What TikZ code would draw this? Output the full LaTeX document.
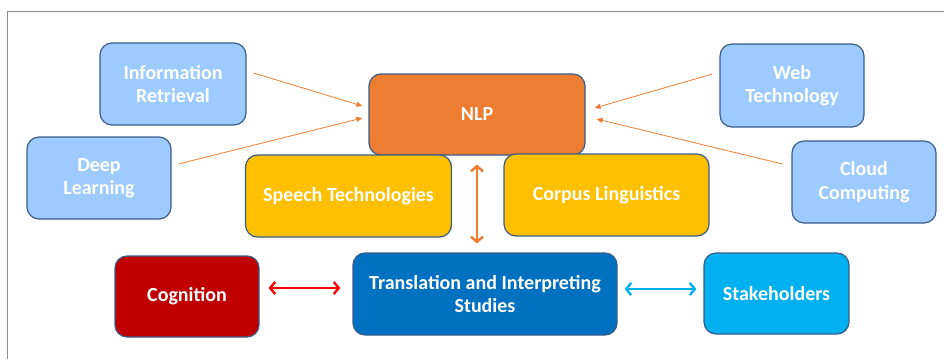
\documentclass[tikz,border=0pt]{standalone}
\usepackage{fontspec}
\setmainfont{Carlito}
\usetikzlibrary{arrows.meta}
\definecolor{skyfill}{HTML}{9DCBFF}
\definecolor{outline}{HTML}{385D8A}
\definecolor{nlporange}{HTML}{ED7D31}
\definecolor{amber}{HTML}{FFC000}
\definecolor{darkred}{HTML}{C00000}
\definecolor{tisblue}{HTML}{0070C0}
\definecolor{cyanish}{HTML}{00B0F0}
\definecolor{linkred}{HTML}{FF0000}
\definecolor{framegray}{HTML}{8C8C8C}
\begin{document}
\begin{tikzpicture}[x=1pt,y=-1pt,
  box/.style={draw=outline, line width=1.2pt, rounded corners=12pt,
    text=white, font=\bfseries\fontsize{20}{23.5}\selectfont, align=center,
    inner sep=0pt, minimum width=#1},
  box/.default=144pt,
  feed/.style={draw=nlporange, line width=0.8pt, -{Triangle[length=6pt,width=5pt]}},
  twoway/.style={line width=2.4pt, {Straight Barb[length=5pt,width=12pt]}-{Straight Barb[length=5pt,width=12pt]}}
]
\useasboundingbox (0,0) rectangle (944,359);
% page frame
\draw[framegray, line width=1.2pt] (7.5,359) -- (7.5,11.5) -- (944,11.5);

% outer sources feeding NLP
\node[box=146pt, minimum height=82pt, fill=skyfill] (ir) at (173,84) {Information\\Retrieval};
\node[box, minimum height=82pt, fill=skyfill] (dl) at (99,178) {Deep\\Learning};
\node[box, minimum height=83pt, fill=skyfill] (web) at (792,85.5) {Web\\Technology};
\node[box, minimum height=82pt, fill=skyfill] (cloud) at (864,182) {Cloud\\Computing};

% core
\node[box=216pt, minimum height=81pt, fill=nlporange] (nlp) at (477,114.5) {NLP};
\node[box=206pt, minimum height=82pt, fill=amber] (speech) at (348.5,196) {Speech Technologies};
\node[box=205pt, minimum height=82pt, fill=amber] (corpus) at (606.5,195) {Corpus Linguistics};

% bottom row
\node[box, minimum height=81pt, fill=darkred] (cog) at (187,296.5) {Cognition};
\node[box=264pt, minimum height=82pt, fill=tisblue] (tis) at (485,294) {Translation and Interpreting\\Studies};
\node[box=145pt, minimum height=81pt, fill=cyanish] (stake) at (776.5,293.5) {Stakeholders};

% feeds into NLP
\draw[feed] ([shift={(7,-11)}]ir.east) -- ([shift={(-6,-8.5)}]nlp.west);
\draw[feed] ([shift={(7,-14)}]dl.east) -- ([shift={(-6,3.5)}]nlp.west);
\draw[feed] ([shift={(-7,-11.5)}]web.west) -- ([shift={(9,-6.5)}]nlp.east);
\draw[feed] ([shift={(-9,-18)}]cloud.west) -- ([shift={(11,4.5)}]nlp.east);

% two-way links
\draw[twoway, nlporange, line width=2.6pt] ([shift={(0,9)}]nlp.south) -- ([shift={(0,-9)}]nlp.south |- tis.north);
\draw[twoway, linkred] ([shift={(9,-8.5)}]cog.east) -- ([shift={(-12,-6)}]tis.west);
\draw[twoway, cyanish] ([shift={(7,-5)}]tis.east) -- ([shift={(-7,-4.5)}]stake.west);
\end{tikzpicture}
\end{document}
